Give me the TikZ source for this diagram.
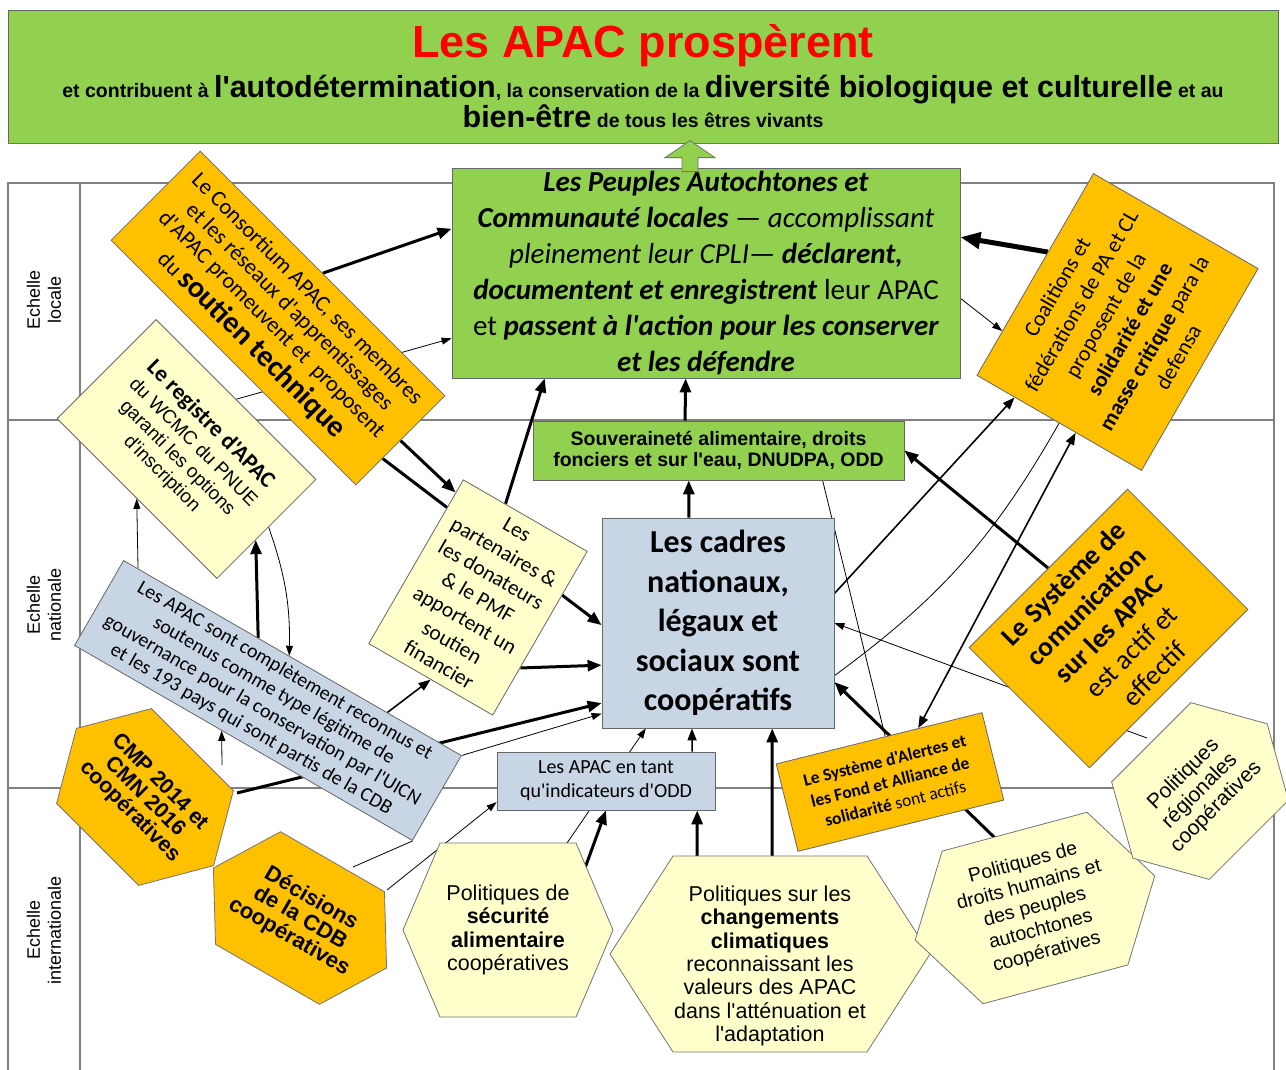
\documentclass[tikz,border=0pt]{standalone}
\usepackage{fontspec}
\setmainfont{Carlito}[Ligatures=TeXOff]
\newfontfamily\arialfont{Liberation Sans}[Ligatures=TeXOff]
\usetikzlibrary{arrows.meta, calc}

\definecolor{apacgreen}{RGB}{146,208,80}
\definecolor{apacorange}{RGB}{255,192,0}
\definecolor{apacyellow}{RGB}{255,255,204}
\definecolor{apacblue}{RGB}{200,213,228}
\definecolor{gridgray}{RGB}{128,128,128}
\definecolor{bannerline}{RGB}{197,90,17}

\pgfdeclarelayer{lines}
\pgfdeclarelayer{shapes}
\pgfsetlayers{lines,shapes,main}

\tikzset{
  box/.style={draw=black!60, line width=0.8pt, align=center, inner sep=0pt},
  greenbox/.style={box, fill=apacgreen},
  orangebox/.style={box, fill=apacorange},
  yellowbox/.style={box, fill=apacyellow},
  bluebox/.style={box, fill=apacblue},
  hexlabel/.style={align=center, inner sep=0pt},
  thinline/.style={line width=0.8pt},
  thinarr/.style={line width=0.8pt, -{Triangle[length=10pt,width=7pt]}},
  medarr/.style={line width=1.6pt, -{Triangle[length=12pt,width=9pt]}},
  thickarr/.style={line width=3pt, -{Triangle[length=14pt,width=11pt]}},
  heavyarr/.style={line width=5pt, -{Triangle[length=20pt,width=16pt]}},
  gridline/.style={draw=gridgray, line width=1.5pt},
}

% big words of the banner
\newcommand\bigw[1]{{\fontsize{30.5}{34}\selectfont #1}}
% hexagon around a centre: centre, fill, rotation, half width, half top edge, half height
\newcommand\drawhex[6]{%
  \begin{scope}[shift={(#1)}, rotate=#3]
    \draw[draw=black!55, line width=0.8pt, fill=#2]
      (-#4pt,0pt) -- (-#5pt,#6pt) -- (#5pt,#6pt) -- (#4pt,0pt)
      -- (#5pt,-#6pt) -- (-#5pt,-#6pt) -- cycle;
  \end{scope}}

\begin{document}
\begin{tikzpicture}[x=1pt, y=-1pt]
\useasboundingbox (0,0) rectangle (1286,1069);

% banner
\node[greenbox, minimum width=1270, minimum height=133] (banner) at (643,76.5) {};
\draw[bannerline, line width=1.5pt] (banner.south west) -- (banner.south east);
\node[font=\arialfont\bfseries\fontsize{45}{50}\selectfont, text=red] (title) at (643,46) {Les APAC prospèrent};
\node[font=\arialfont\bfseries\fontsize{19.5}{30}\selectfont, align=center] (subtitle) at (643,101)
  {et contribuent à \bigw{l'autodétermination}, la conservation de la \bigw{diversité biologique et culturelle} et au\\
   \bigw{bien-être} de tous les êtres vivants};

% scale labels
\node[rotate=90, align=center, font=\arialfont\fontsize{18}{21}\selectfont] (lbllocal) at (44,300) {Echelle\\locale};
\node[rotate=90, align=center, font=\arialfont\fontsize{18}{21}\selectfont] (lblnat) at (44,605) {Echelle\\nationale};
\node[rotate=90, align=center, font=\arialfont\fontsize{18}{21}\selectfont] (lblint) at (44,930) {Echelle\\internationale};

% boxes
\node[greenbox, minimum width=508, minimum height=210, font=\fontsize{29}{36}\selectfont] (pa) at (706,273)
  {\textbf{\textit{Les Peuples Autochtones et}}\\
   \textbf{\textit{Communauté locales}} — \textit{accomplissant}\\
   \textit{pleinement leur CPLI}— \textbf{\textit{déclarent,}}\\
   \textbf{\textit{documentent et enregistrent}} leur APAC\\
   et \textbf{\textit{passent à l'action pour les conserver}}\\
   \textbf{\textit{et les défendre}}};
\node[greenbox, minimum width=371, minimum height=59, font=\arialfont\bfseries\fontsize{19.5}{21}\selectfont] (souv) at (718.5,450.5)
  {Souveraineté alimentaire, droits\\fonciers et sur l'eau, DNUDPA, ODD};
\node[bluebox, minimum width=232, minimum height=210, font=\bfseries\fontsize{32}{39.5}\selectfont] (cadres) at (718,623)
  {Les cadres\\nationaux,\\légaux et\\sociaux sont\\coopératifs};
\node[bluebox, minimum width=218, minimum height=58, font=\fontsize{20}{24}\selectfont] (odd) at (606,781)
  {Les APAC en tant\\qu'indicateurs d'ODD};

\node[orangebox, rotate=-45, minimum width=346, minimum height=126, font=\fontsize{22.5}{25}\selectfont] (cons) at (278,318)
  {Le Consortium APAC, ses membres\\et les réseaux d'apprentissages\\d'APAC promeuvent et\ \ proposent\\[5pt]
   du {\fontsize{30}{32}\selectfont\bfseries soutien technique}};
\node[yellowbox, rotate=-45, minimum width=226, minimum height=140, font=\arialfont\fontsize{19}{22}\selectfont] (regis) at (186.5,449)
  {{\rmfamily\bfseries\fontsize{23}{24}\selectfont Le registre d'APAC}\\[2pt]du WCMC du PNUE\\garanti les options\\d'inscription};
\node[yellowbox, rotate=-30, minimum width=143, minimum height=189, font=\fontsize{21.5}{26}\selectfont] (part) at (478,597.5)
  {Les\\partenaires \&\\les donateurs\\\& le PMF\\apportent un\\soutien\\financier};
\node[bluebox, rotate=-30, minimum width=390, minimum height=98, font=\fontsize{20}{22.5}\selectfont] (reco) at (268,700.5)
  {Les APAC sont complètement reconnus et\\soutenus comme type légitime de\\gouvernance pour la conservation par l'UICN\\et les 193 pays qui sont partis de la CDB};
\node[orangebox, rotate=60, minimum width=233, minimum height=190, font=\fontsize{22}{28}\selectfont] (coal) at (1117.5,322)
  {Coalitions et\\fédérations de PA et CL\\proposent de la\\\textbf{solidarité et une}\\\textbf{masse critique} para la\\defensa};
\node[orangebox, rotate=45, minimum width=224, minimum height=170, font=\fontsize{27.5}{32}\selectfont] (comm) at (1108.5,628.5)
  {\textbf{Le Système de}\\\textbf{comunication}\\\textbf{sur les APAC}\\est actif et\\effectif};
\node[orangebox, rotate=14, minimum width=212, minimum height=90, font=\fontsize{17.5}{22}\selectfont] (alert) at (890,782)
  {\textbf{Le Système d'Alertes et}\\\textbf{les Fond et Alliance de}\\\textbf{solidarité} sont actifs};

% hexagon labels
\node[hexlabel, rotate=-45, font=\arialfont\bfseries\fontsize{21.5}{21}\selectfont] (cmp) at (145,797) {CMP 2014 et\\CMN 2016\\coopératives};
\node[hexlabel, rotate=-30, font=\arialfont\bfseries\fontsize{22}{22}\selectfont] (cdb) at (300,918) {Décisions\\de la CDB\\coopératives};
\node[hexlabel, font=\arialfont\fontsize{21.5}{23.5}\selectfont] (secu) at (508,930)
  {Politiques de\\\textbf{sécurité}\\\textbf{alimentaire}\\coopératives};
\node[hexlabel, font=\arialfont\fontsize{21.5}{23.3}\selectfont] (clim) at (770,966)
  {Politiques sur les\\\textbf{changements}\\\textbf{climatiques}\\reconnaissant les\\valeurs des APAC\\dans l'atténuation et\\l'adaptation};
\node[hexlabel, rotate=15, font=\arialfont\fontsize{19.5}{23}\selectfont] (droits) at (1035,908)
  {Politiques de\\droits humains et\\des peuples\\autochtones\\coopératives};
\node[hexlabel, rotate=45, font=\arialfont\fontsize{21}{23}\selectfont] (reg) at (1200,791)
  {Politiques\\régionales\\coopératives};

\begin{pgfonlayer}{shapes}
  \drawhex{cmp}{apacorange}{-45}{97}{58}{67}
  \drawhex{cdb}{apacorange}{-30}{100}{60}{65}
  \drawhex{secu}{apacyellow}{0}{105}{68}{87}
  \drawhex{$(clim)+(0,-12)$}{apacyellow}{0}{160}{97}{98}
  \drawhex{droits}{apacyellow}{15}{124}{75}{79}
  \drawhex{reg}{apacyellow}{45}{95}{56}{69}
\end{pgfonlayer}

% arrow up to the banner
\draw[draw=black!55, fill=apacgreen, line width=0.8pt] ($(pa.north)+(-24,4)$) -- ++(0,-14) -- ++(-17,0)
  -- ++(25,-17) -- ++(25,17) -- ++(-17,0) -- ++(0,14) -- cycle;

\begin{pgfonlayer}{lines}
  % table of the three scales
  \draw[gridline] (8,183) rectangle (1274,1080);
  \draw[gridline] (8,420) -- (1274,420);
  \draw[gridline] (8,788) -- (1274,788);
  \draw[gridline] (80,183) -- (80,1080);

  % local scale
  \draw[thickarr] (cons.north) -- ($(pa.north west)!0.29!(pa.south west)$);
  \draw[thinarr] (regis.north) -- ($(pa.north west)!0.81!(pa.south west)$);
  \draw[heavyarr] ($(coal.north west)!0.61!(coal.north east)$) -- ($(pa.north east)!0.33!(pa.south east)$);
  \draw[thinarr] ($(pa.north east)!0.62!(pa.south east)$) -- ($(coal.north west)!0.22!(coal.north east)$);
  \draw[thickarr] ($(souv.north west)!0.41!(souv.north east)$) -- ($(pa.south west)!0.46!(pa.south east)$);
  \draw[thickarr] ($(part.north west)!0.34!(part.north east)$) -- ($(pa.south west)!0.183!(pa.south east)$);

  % national scale
  \draw[thickarr] (cons.east) -- ($(part.north west)!0.08!(part.south west)$);
  \draw[thickarr] ($(cons.north east)!0.7!(cons.south east)$) -- ($(cadres.north west)!0.51!(cadres.south west)$);
  \draw[thickarr] ($(part.north east)!0.71!(part.south east)$) -- ($(cadres.north west)!0.70!(cadres.south west)$);
  \draw[thickarr] ($(cadres.north west)!0.375!(cadres.north east)$) -- ($(souv.south west)!0.42!(souv.south east)$);
  \draw[thickarr] (comm.north) -- (souv.east);
  \draw[medarr] ($(cadres.north east)!0.36!(cadres.south east)$) -- ($(coal.north west)!0.23!(coal.south west)$);
  \draw[medarr, {Triangle[length=12pt,width=9pt]}-{Triangle[length=12pt,width=9pt]}]
    ($(alert.north west)!0.69!(alert.north east)$) -- ($(coal.north west)!0.6!(coal.south west)$);
  \draw[thinline] (coal.west) to[bend left=12] ($(cadres.north east)!0.75!(cadres.south east)$);
  \draw[thinline] ($(souv.south west)!0.78!(souv.south east)$) -- ($(alert.north west)!0.53!(alert.north east)$);
  \draw[thinarr] ($(reco.north west)!0.043!(reco.north east)$) -- (regis.south);
  \draw[thickarr] ($(reco.north west)!0.398!(reco.north east)$) -- ($(regis.north east)!0.61!(regis.south east)$);
  \draw[thinarr] ($(regis.north east)!0.48!(regis.south east)$) to[bend left=10] ($(reco.north west)!0.49!(reco.north east)$);
  \draw[medarr] ($(reco.north west)!0.78!(reco.north east)$) -- (part.south);
  \draw[thinarr] (reco.north east) -- ($(cadres.north west)!0.93!(cadres.south west)$);
  \draw[medarr] ($(odd.north west)!0.894!(odd.north east)$) -- ($(cadres.south west)!0.388!(cadres.south east)$);

  % international scale
  \draw[thickarr] ($(cmp)+(92,-4)$) -- ($(cadres.north west)!0.88!(cadres.south west)$);
  \draw[thinarr] ($(cmp)+(77,-32)$) -- ($(reco.south west)!0.436!(reco.south east)$);
  \draw[thinarr] ($(cdb)+(87,-28)$) -- ($(odd.north west)!0.86!(odd.south west)$);
  \draw[thinline] ($(cdb)+(53,-51)$) -- (reco.south east);
  \draw[thickarr] ($(secu)+(77,-62)$) -- (odd.south);
  \draw[thinarr] ($(secu)+(59,-87)$) -- ($(cadres.south west)!0.19!(cadres.south east)$);
  \draw[thickarr] ($(clim)+(2,-110)$) -- ($(cadres.south west)!0.733!(cadres.south east)$);
  \draw[thickarr] ($(clim)+(-73,-108)$) -- ($(odd.south west)!0.917!(odd.south east)$);
  \draw[thickarr] ($(droits)+(-40,-70)$) -- ($(cadres.north east)!0.78!(cadres.south east)$);
  \draw[thinarr] ($(reg)+(-53,-53)$) -- (cadres.east);
\end{pgfonlayer}
\end{tikzpicture}
\end{document}
